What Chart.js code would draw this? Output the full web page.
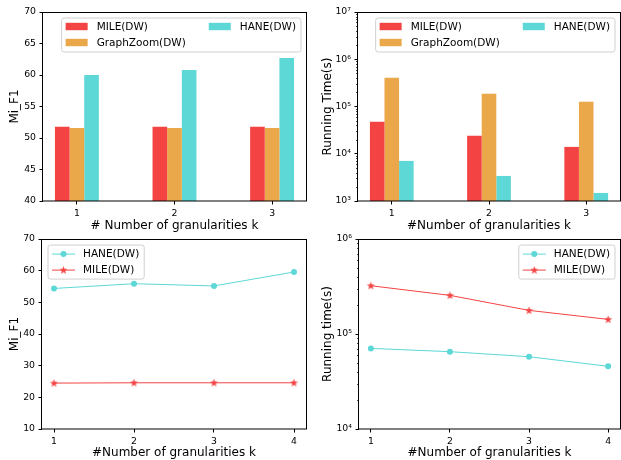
<!DOCTYPE html>
<html><head><meta charset="utf-8">
<script src="https://cdn.jsdelivr.net/npm/chart.js@4.4.1/dist/chart.umd.min.js"></script>
<style>
html,body{margin:0;padding:0;background:#fff;overflow:hidden;width:621px;height:460px;position:relative;}
canvas{position:absolute;}
</style></head><body>
<canvas id="c3" width="310" height="230" style="left:0;top:230px"></canvas>
<canvas id="c4" width="314" height="230" style="left:310px;top:230px"></canvas>
<canvas id="c1" width="310" height="240" style="left:0;top:0"></canvas>
<canvas id="c2" width="314" height="240" style="left:310px;top:0"></canvas>
<script>
// ---------- data ----------
const barCategories = [1, 2, 3];
const mileF1 = [51.8, 51.8, 51.8];
const graphZoomF1 = [51.6, 51.6, 51.6];
const haneF1 = [60.0, 60.8, 62.7];
const mileTime = [47300, 23900, 13960];
const graphZoomTime = [405000, 185700, 125600];
const haneTime = [7050, 3390, 1480];

const lineK = [1, 2, 3, 4];
const haneF1Line = [54.4, 55.9, 55.2, 59.6];
const mileF1Line = [24.5, 24.6, 24.6, 24.6];
const haneTimeLine = [70600, 65200, 57700, 45700];
const mileTimeLine = [322600, 255400, 177500, 142700];

const f1BarTicks = [40, 45, 50, 55, 60, 65, 70];
const timeBarTicks = [1e3, 1e4, 1e5, 1e6, 1e7];
const f1LineTicks = [10, 20, 30, 40, 50, 60, 70];
const timeLineTicks = [1e4, 1e5, 1e6];

const labelMile = 'MILE(DW)';
const labelGraphZoom = 'GraphZoom(DW)';
const labelHane = 'HANE(DW)';

// ---------- styles ----------
const RED = '#f44343';
const ORANGE = '#eba84a';
const CYAN = '#5ed7d7';
const FONT = 'DejaVu Sans';
const tickFont = {family: FONT, size: 9.3};
const titleFont = {family: FONT, size: 12, lineHeight: 1.2};

const SUP = {'0':'⁰','1':'¹','2':'²','3':'³','4':'⁴','5':'⁵','6':'⁶','7':'⁷','8':'⁸','9':'⁹','-':'⁻'};
function powLabel(v) {
  const e = Math.round(Math.log10(v));
  return '10' + String(e).split('').map(c => SUP[c]).join('');
}

function makeStar(color, size) {
  const c = document.createElement('canvas');
  c.width = c.height = size;
  const g = c.getContext('2d');
  g.fillStyle = color;
  g.beginPath();
  const cx = size / 2, cy = size / 2 + 0.3, R = size / 2 - 0.3, r = R * 0.42;
  for (let i = 0; i < 10; i++) {
    const a = -Math.PI / 2 + i * Math.PI / 5;
    const rad = i % 2 ? r : R;
    g.lineTo(cx + rad * Math.cos(a), cy + rad * Math.sin(a));
  }
  g.closePath();
  g.fill();
  return c;
}
const starRed = makeStar(RED, 9);

function xScale(tickVals, min, max, title, padBottom, height) {
  return {
    type: 'linear', min, max, offset: false,
    afterBuildTicks: s => { s.ticks = tickVals.map(v => ({value: v})); },
    afterFit: s => { s.height = height; },
    ticks: {font: tickFont, color: '#000', padding: 3.2, autoSkip: false, maxRotation: 0,
            callback: v => String(v)},
    grid: {display: true, drawOnChartArea: false, drawTicks: true, tickLength: 3.5,
           tickColor: '#000', tickWidth: 1, offset: false},
    border: {display: false},
    title: {display: true, text: title, font: titleFont, color: '#000',
            padding: {top: 0, bottom: padBottom}}
  };
}
function yScale(isLog, tickVals, min, max, title, padTop, width) {
  return {
    type: isLog ? 'logarithmic' : 'linear', min, max,
    afterBuildTicks: s => { s.ticks = tickVals.map(v => ({value: v, major: true})); },
    afterFit: s => { s.width = width; },
    ticks: {font: tickFont, color: '#000', padding: 3.5, autoSkip: false,
            callback: v => isLog ? powLabel(v) : String(v)},
    grid: {display: true, drawOnChartArea: false, drawTicks: true, tickLength: 3.5,
           tickColor: '#000', tickWidth: 1},
    border: {display: false},
    title: {display: true, text: title, font: titleFont, color: '#000',
            padding: {top: padTop, bottom: 0}}
  };
}

// frame, minor log ticks, legend
const decorPlugin = {
  id: 'decor',
  afterDatasetsDraw(chart, args, opts) {
    const ctx = chart.ctx, ca = chart.chartArea;
    ctx.save();
    const ys = chart.scales.y;
    if (ys.type === 'logarithmic') {
      ctx.strokeStyle = '#000';
      ctx.lineWidth = 0.7;
      const lo = Math.floor(Math.log10(ys.min)), hi = Math.ceil(Math.log10(ys.max));
      for (let n = lo; n < hi; n++) {
        for (let k = 2; k <= 9; k++) {
          const v = k * Math.pow(10, n);
          if (v <= ys.min || v >= ys.max) continue;
          const py = Math.round(ys.getPixelForValue(v)) + 0.5;
          ctx.beginPath();
          ctx.moveTo(ca.left - 2, py);
          ctx.lineTo(ca.left, py);
          ctx.stroke();
        }
      }
    }
    ctx.strokeStyle = '#000';
    ctx.lineWidth = 1;
    ctx.strokeRect(Math.round(ca.left) - 0.5, Math.round(ca.top) + 0.5,
                   Math.round(ca.right) - Math.round(ca.left) + 1, Math.round(ca.bottom) - Math.round(ca.top) - 0.5);
    const L = opts.legend;
    if (L) {
      ctx.font = L.fontSize + 'px "' + FONT + '"';
      const ds = chart.data.datasets;
      const colW = L.columns.map(col => L.handleWidth + L.textGap +
        Math.max(...col.map(i => ctx.measureText(ds[i].label).width)));
      const rows = Math.max(...L.columns.map(c => c.length));
      const w = L.padX * 2 + colW.reduce((a, b) => a + b, 0) + L.columnGap * (L.columns.length - 1);
      const h = L.padY * 2 + (rows - 1) * L.rowHeight;
      const x0 = L.anchor === 'ur' ? ca.right - L.margin - w : ca.left + L.margin;
      const y0 = ca.top + L.margin;
      ctx.beginPath();
      if (ctx.roundRect) ctx.roundRect(x0 + 0.5, y0 + 0.5, w, h, 2.5); else ctx.rect(x0 + 0.5, y0 + 0.5, w, h);
      ctx.fillStyle = 'rgba(255,255,255,0.8)';
      ctx.fill();
      ctx.strokeStyle = '#d0d0d0';
      ctx.lineWidth = 1;
      ctx.stroke();
      let cx = x0 + L.padX;
      L.columns.forEach((col, ci) => {
        col.forEach((i, ri) => {
          const d = ds[i];
          const cy = y0 + L.padY + ri * L.rowHeight;
          if (L.kind === 'bar') {
            ctx.fillStyle = d.backgroundColor;
            ctx.fillRect(cx, cy - 3.7, L.handleWidth, 7.4);
          } else {
            ctx.strokeStyle = d.borderColor;
            ctx.lineWidth = 1;
            ctx.beginPath();
            ctx.moveTo(cx, cy + 0.5);
            ctx.lineTo(cx + L.handleWidth, cy + 0.5);
            ctx.stroke();
            const mx = cx + L.handleWidth / 2;
            if (d.pointStyle === 'circle') {
              ctx.fillStyle = d.pointBackgroundColor;
              ctx.beginPath();
              ctx.arc(mx, cy + 0.5, d.pointRadius, 0, Math.PI * 2);
              ctx.fill();
            } else if (d.pointStyle && d.pointStyle.width) {
              ctx.drawImage(d.pointStyle, mx - d.pointStyle.width / 2, cy + 0.5 - d.pointStyle.height / 2);
            }
          }
          ctx.fillStyle = '#000';
          ctx.textBaseline = 'middle';
          ctx.textAlign = 'left';
          ctx.fillText(d.label, cx + L.handleWidth + L.textGap, cy + 0.5);
        });
        cx += colW[ci] + L.columnGap;
      });
    }
    ctx.restore();
  }
};

function barLegend() {
  return {kind: 'bar', anchor: 'ur', columns: [[0, 1], [2]], fontSize: 10.5,
          handleWidth: 22, textGap: 9, columnGap: 23, padX: 4.5, padY: 9, rowHeight: 16, margin: 5.5};
}
function lineLegend(anchor) {
  return {kind: 'line', anchor, columns: [[0, 1]], fontSize: 10.5,
          handleWidth: 23, textGap: 8, columnGap: 0, padX: 4.5, padY: 9, rowHeight: 16, margin: 5.5};
}

const common = {responsive: false, animation: false, devicePixelRatio: 1};

function pts(xs, ys) { return xs.map((x, i) => ({x, y: ys[i]})); }

function barChart(id, a, b, c, yCfg, xCfg, pad) {
  return new Chart(document.getElementById(id), {
    type: 'bar',
    data: {datasets: [
      {label: labelMile, data: pts(barCategories, a), backgroundColor: RED},
      {label: labelGraphZoom, data: pts(barCategories, b), backgroundColor: ORANGE},
      {label: labelHane, data: pts(barCategories, c), backgroundColor: CYAN}
    ]},
    options: Object.assign({}, common, {
      layout: {padding: pad},
      datasets: {bar: {categoryPercentage: 0.45, barPercentage: 1.0, borderWidth: 0}},
      scales: {x: xCfg, y: yCfg},
      plugins: {legend: {display: false}, tooltip: {enabled: false}, decor: {legend: barLegend()}}
    }),
    plugins: [decorPlugin]
  });
}

function lineChart(id, hane, mile, yCfg, xCfg, pad, anchor) {
  return new Chart(document.getElementById(id), {
    type: 'line',
    data: {datasets: [
      {label: labelHane, data: pts(lineK, hane), borderColor: CYAN, backgroundColor: CYAN,
       pointBackgroundColor: CYAN, pointBorderWidth: 0, pointRadius: 3, pointStyle: 'circle',
       borderWidth: 1, tension: 0, fill: false},
      {label: labelMile, data: pts(lineK, mile), borderColor: RED, backgroundColor: RED,
       pointBackgroundColor: RED, pointBorderWidth: 0, pointRadius: 4, pointStyle: starRed,
       borderWidth: 1, tension: 0, fill: false}
    ]},
    options: Object.assign({}, common, {
      layout: {padding: pad},
      scales: {x: xCfg, y: yCfg},
      plugins: {legend: {display: false}, tooltip: {enabled: false}, decor: {legend: lineLegend(anchor)}}
    }),
    plugins: [decorPlugin]
  });
}

const barXMin = 0.6525, barXMax = 3.3475;
const lineXMin = 0.85, lineXMax = 4.15;

lineChart('c3', haneF1Line, mileF1Line,
  yScale(false, f1LineTicks, 10, 70, 'Mi_F1', 7.8, 42),
  xScale(lineK, lineXMin, lineXMax, '#Number of granularities k', 0.1, 31),
  {left: 0, top: 8, right: 4, bottom: 0}, 'ul');

lineChart('c4', haneTimeLine, mileTimeLine,
  yScale(true, timeLineTicks, 1e4, 1e6, 'Running time(s)', 10.8, 49),
  xScale(lineK, lineXMin, lineXMax, '#Number of granularities k', 0.1, 31),
  {left: 0, top: 8, right: 4, bottom: 0}, 'ur');

barChart('c1', mileF1, graphZoomF1, haneF1,
  yScale(false, f1BarTicks, 40, 70, 'Mi_F1', 7.8, 43),
  xScale(barCategories, barXMin, barXMax, '# Number of granularities k', 7.3, 39),
  {left: 0, top: 12, right: 4, bottom: 0});

barChart('c2', mileTime, graphZoomTime, haneTime,
  yScale(true, timeBarTicks, 1e3, 1e7, 'Running Time(s)', 10.8, 48),
  xScale(barCategories, barXMin, barXMax, '#Number of granularities k', 7.3, 39),
  {left: 0, top: 12, right: 4, bottom: 0});
</script>
</body></html>
